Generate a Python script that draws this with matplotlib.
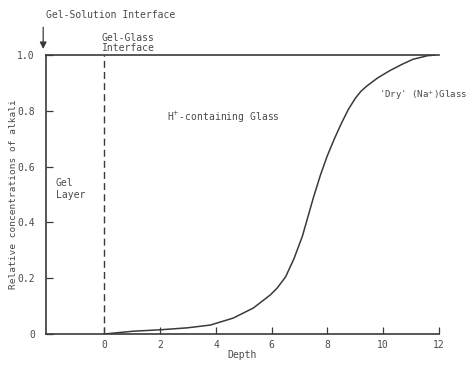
import numpy as np
import matplotlib.pyplot as plt

# profile of alkali concentration vs depth
depth = [0, 1.04, 2.0, 2.97, 3.8, 4.62, 5.34, 5.95, 6.2, 6.5, 6.8, 7.1, 7.3, 7.5,
         7.75, 8.0, 8.25, 8.5, 8.75, 9.0, 9.2, 9.4, 9.8, 10.25, 10.7, 11.07, 11.6, 11.85]
conc = [0, 0.01, 0.015, 0.022, 0.032, 0.057, 0.093, 0.14, 0.165, 0.205, 0.27, 0.35,
        0.42, 0.49, 0.57, 0.64, 0.70, 0.755, 0.805, 0.845, 0.87, 0.888, 0.918, 0.945,
        0.968, 0.985, 0.998, 1.0]

xticks = [0, 2, 4, 6, 8, 10, 12]
xticklabels = ["0", "2", "4", "6", "8", "10", "12"]
yticks = [0, 0.2, 0.4, 0.6, 0.8, 1.0]
yticklabels = ["0", "0.2", "0.4", "0.6", "0.8", "1.0"]

ink = "#3a3a3a"
txt = "#4a4a4a"
mono = "DejaVu Sans Mono"
fs = 7

fig = plt.figure(figsize=(4.76, 3.65), dpi=100)
ax = fig.add_axes([0.0966, 0.085, 0.8254, 0.764])

ax.plot(depth, conc, color=ink, lw=1.1, solid_joinstyle="round")
ax.plot([0, 0], [0, 1], color=ink, lw=1.0, ls=(0, (5, 3)))

ax.set_xlim(-2.1, 12)
ax.set_ylim(0, 1.0)
ax.spines["right"].set_visible(False)
for s in ["left", "bottom", "top"]:
    ax.spines[s].set_color(ink)
    ax.spines[s].set_linewidth(1.2)

ax.set_xticks(xticks)
ax.set_xticklabels(xticklabels, family=mono, fontsize=fs, color=txt)
ax.set_yticks(yticks)
ax.set_yticklabels(yticklabels, family=mono, fontsize=fs, color=txt)
ax.tick_params(direction="in", length=5, width=0.9, color=ink)
ax.tick_params(axis="x", pad=4)
ax.tick_params(axis="y", pad=8)
ax.tick_params(top=False, right=False)

ax.set_xlabel("Depth", family=mono, fontsize=fs, color=txt, labelpad=0)
ax.set_ylabel("Relative concentrations of alkali", family=mono, fontsize=6.8,
              color=txt)
ax.yaxis.set_label_coords(-0.072, 0.5)

ax.text(-2.1, 1.145, "Gel-Solution Interface", family=mono, fontsize=fs,
        color=txt, ha="left", va="center")
ax.annotate("", xy=(-2.2, 1.012), xytext=(-2.2, 1.11),
            arrowprops=dict(arrowstyle="-|>", color=ink, lw=0.9),
            annotation_clip=False)
ax.text(-0.1, 1.045, "Gel-Glass\nInterface", family=mono, fontsize=fs,
        color=txt, ha="left", va="center", linespacing=1.0)
ax.text(2.25, 0.775, "H$^{+}$-containing Glass", family=mono, fontsize=fs,
        color=txt, ha="left", va="center")
ax.text(9.85, 0.855, "'Dry' (Na$^{+}$)Glass", family=mono, fontsize=fs - 0.5,
        color=txt, ha="left", va="center")
ax.text(-1.75, 0.52, "Gel\nLayer", family=mono, fontsize=fs,
        color=txt, ha="left", va="center", linespacing=1.2)

fig.savefig("out.png", dpi=100)
